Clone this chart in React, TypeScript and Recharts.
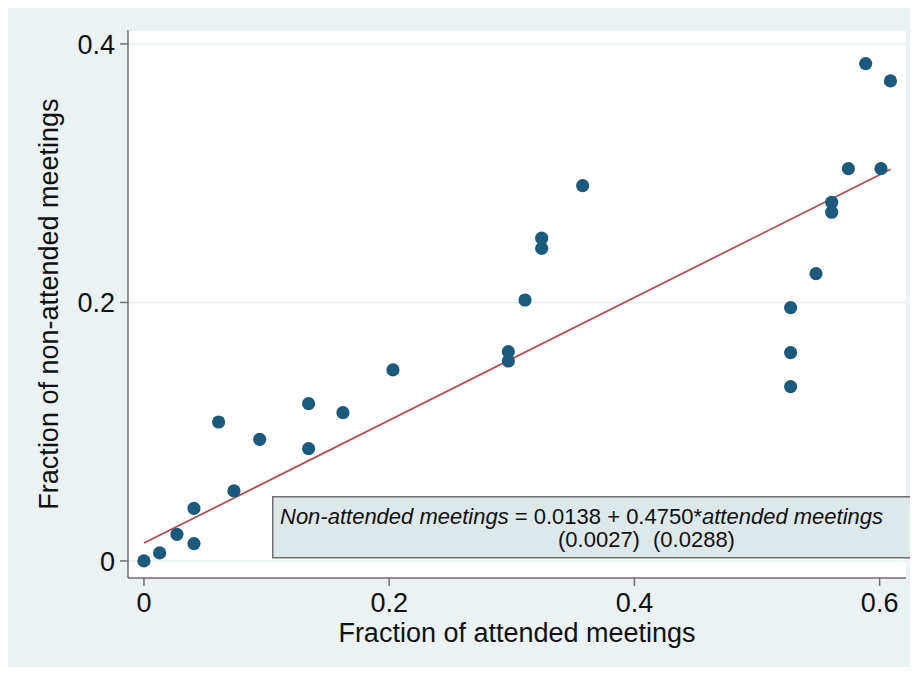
import React from 'react';
import { ScatterChart, Scatter, XAxis, YAxis, CartesianGrid, ReferenceLine } from 'recharts';

// fraction of attended meetings (x) vs fraction of non-attended meetings (y)
const attended = [
  0, 0.0128, 0.0269, 0.0408, 0.0408, 0.0609, 0.0734, 0.0944, 0.1343, 0.1343,
  0.1623, 0.2031, 0.2972, 0.2972, 0.3108, 0.3244, 0.3244, 0.3578, 0.5274, 0.5274,
  0.5274, 0.5481, 0.5609, 0.5609, 0.5745, 0.5886, 0.6011, 0.6088,
];
const nonAttended = [
  0, 0.0062, 0.0206, 0.0407, 0.0134, 0.1075, 0.0542, 0.0941, 0.1217, 0.0869,
  0.1148, 0.1478, 0.162, 0.1547, 0.2019, 0.2497, 0.2419, 0.2904, 0.196, 0.1612,
  0.1349, 0.2223, 0.2775, 0.2698, 0.3035, 0.3848, 0.3035, 0.3714,
];

// fitted line end points
const fitX = [0, 0.609];
const fitY = [0.0138, 0.3031];

const xTicks = [0, 0.2, 0.4, 0.6];
const yTicks = [0, 0.2, 0.4];

const FONT = '"Liberation Sans", Arial, Helvetica, sans-serif';
const DOT = '#1c5a7d';
const FIT = '#b5474d';
const AXIS = '#707070';

const points = attended.map((x, i) => ({ x, y: nonAttended[i] }));

const fmt = (v: number) => (v === 0 ? '0' : String(v));

const Dot = (props: any) => {
  const { cx, cy } = props;
  if (cx == null || cy == null) return <g />;
  return <circle cx={cx} cy={cy} r={6.6} fill={DOT} />;
};

const App: React.FC = () => {
  return (
    <div style={{ position: 'relative', width: 918, height: 675, margin: -8, fontFamily: FONT }}>
      <div style={{ position: 'absolute', left: 8, top: 5, right: 0, bottom: 1, background: '#eaf2f3' }} />
      <div style={{ position: 'absolute', left: 0, top: 0 }}>
        <ScatterChart width={918} height={675} margin={{ top: 30, right: 12, bottom: 37, left: 48 }}>
          <CartesianGrid vertical={false} fill="#ffffff" stroke="#e6eff0" strokeWidth={1.5} />
          <XAxis
            type="number"
            dataKey="x"
            domain={[-0.013, 0.6215]}
            allowDataOverflow
            ticks={xTicks}
            tickFormatter={fmt}
            height={60}
            stroke={AXIS}
            strokeWidth={1.5}
            tickSize={8}
            tickMargin={7}
            tick={{ fill: '#111', fontSize: 27, fontFamily: FONT }}
            label={{
              content: ({ viewBox }: any) => (
                <text
                  x={viewBox.x + viewBox.width / 2}
                  y={642}
                  textAnchor="middle"
                  fontSize={27}
                  fontFamily={FONT}
                  fill="#111"
                >
                  Fraction of attended meetings
                </text>
              ),
            }}
          />
          <YAxis
            type="number"
            dataKey="y"
            domain={[-0.0132, 0.4108]}
            allowDataOverflow
            ticks={yTicks}
            tickFormatter={fmt}
            width={80}
            stroke={AXIS}
            strokeWidth={1.5}
            tickSize={8}
            tickMargin={5}
            tick={{ fill: '#111', fontSize: 27, fontFamily: FONT }}
            label={{
              content: () => (
                <text
                  x={58}
                  y={304}
                  transform="rotate(-90 58 304)"
                  textAnchor="middle"
                  fontSize={27}
                  fontFamily={FONT}
                  fill="#111"
                >
                  Fraction of non-attended meetings
                </text>
              ),
            }}
          />
          <ReferenceLine
            segment={[
              { x: fitX[0], y: fitY[0] },
              { x: fitX[1], y: fitY[1] },
            ]}
            stroke={FIT}
            strokeWidth={1.7}
            ifOverflow="visible"
          />
          <Scatter data={points} shape={<Dot />} isAnimationActive={false} />
        </ScatterChart>
      </div>
      <svg
        width={918}
        height={675}
        style={{ position: 'absolute', left: 0, top: 0, pointerEvents: 'none' }}
      >
        <rect x={272.75} y={496.75} width={643} height={61} fill="#dde8eb" stroke={AXIS} strokeWidth={1.5} />
        <text x={280} y={524} fontSize={22} fontFamily={FONT} fill="#111">
          <tspan fontStyle="italic">Non-attended meetings</tspan>
          <tspan> = 0.0138 + 0.4750*</tspan>
          <tspan fontStyle="italic">attended meetings</tspan>
        </text>
        <text y={547} fontSize={22} fontFamily={FONT} fill="#111">
          <tspan x={558}>(0.0027)</tspan>
          <tspan x={653}>(0.0288)</tspan>
        </text>
      </svg>
    </div>
  );
};

export default App;
